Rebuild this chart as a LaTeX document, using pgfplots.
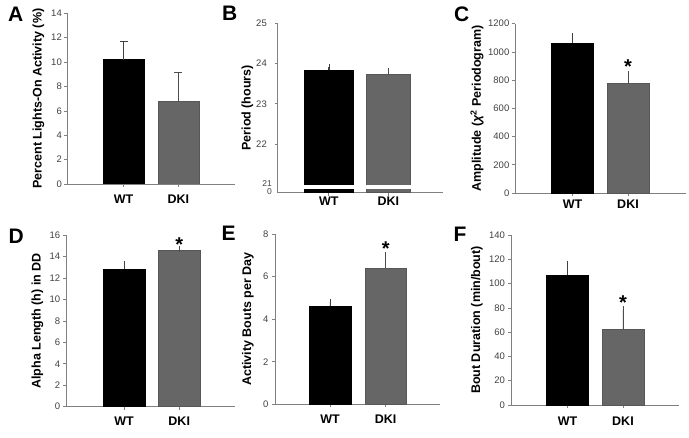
\documentclass[border=0pt]{standalone}
\usepackage{pgfplots}
\pgfplotsset{compat=1.18}
\usepackage{fontspec}
\setmainfont{Liberation Sans}
\definecolor{dki}{RGB}{102,102,102}
\definecolor{axgray}{RGB}{128,128,128}
\newcommand{\ticklab}{\fontsize{9.5}{10}\selectfont}
\newcommand{\lab}{\fontsize{12.5}{14}\selectfont\bfseries}
\newcommand{\panel}{\fontsize{21}{22}\selectfont\bfseries}
\pgfplotsset{
  panel/.style={
    scale only axis,
    axis lines=left,
    axis line style={-, axgray, line width=0.7pt},
    tick style={axgray, line width=0.6pt},
    tick align=outside,
    major tick length=3pt,
    xtick={1,2}, xticklabels={WT,DKI},
    x tick label style={font=\lab, anchor=north, inner sep=0pt},
    y tick label style={font=\ticklab, text=black!75, anchor=east, inner sep=0pt},
    /pgf/number format/assume math mode=true,
    /pgf/number format/1000 sep={},
    ymin=0,
  },
  ylab/.style={every axis y label/.style={at={([xshift=#1]axis description cs:0,0.5)}, rotate=90, anchor=center, font=\lab}},
  xlab/.style={x tick label style={yshift=#1}},
  ytl/.style={y tick label style={xshift=#1}},
  wtbar/.style={ybar, bar width=#1, fill=black, draw=black, line width=0.4pt,
    error bars/.cd, y dir=plus, y explicit,
    error bar style={black!75, line width=0.6pt},
    error mark options={rotate=90, mark size=4pt, black!75, line width=0.6pt}},
  dkibar/.style={ybar, bar width=#1, fill=dki, draw=dki!85!black, line width=0.4pt,
    error bars/.cd, y dir=plus, y explicit,
    error bar style={black!70, line width=0.6pt},
    error mark options={rotate=90, mark size=4pt, black!70, line width=0.6pt}},
  star/.style={draw=none, mark=none, nodes near coords={*},
    every node near coord/.append style={font=\fontsize{20}{20}\selectfont\bfseries, anchor=center, inner sep=0pt, text=black}},
}
\begin{document}
\begin{tikzpicture}
\useasboundingbox (0pt,0pt) rectangle (689pt,438pt);

% Panel letters
\node[anchor=base west, inner sep=0pt, font=\panel] at (8pt,416.3pt) {A};
\node[anchor=base west, inner sep=0pt, font=\panel] at (222pt,417.3pt) {B};
\node[anchor=base west, inner sep=0pt, font=\panel] at (454pt,416.8pt) {C};
\node[anchor=base west, inner sep=0pt, font=\panel] at (8.5pt,194pt) {D};
\node[anchor=base west, inner sep=0pt, font=\panel] at (221.5pt,197pt) {E};
\node[anchor=base west, inner sep=0pt, font=\panel] at (453.5pt,196.5pt) {F};

% A
\begin{axis}[panel, at={(67pt,254pt)}, anchor=south west, width=168pt, height=170.7pt,
  xmin=-0.03, xmax=3.03, ymax=14, ytick={0,2,...,14},
  ylab=-28.5pt, xlab=-8pt, ytl=-2pt,
  ylabel={Percent Lights-On Activity (\%)}]
\addplot[wtbar=0.757] coordinates {(1,10.2) +- (0,1.5)};
\addplot[dkibar=0.74] coordinates {(2,6.8) +- (0,2.4)};
\end{axis}

% B
\begin{axis}[panel, at={(277.5pt,245.3pt)}, anchor=south west, width=165.5pt, height=169.7pt,
  xmin=0.138, xmax=2.919, ymin=20.797, ymax=25, ytick={22,23,24,25},
  extra y ticks={20.827,21}, extra y tick labels={\raisebox{-1.2pt}{0},\raisebox{1.2pt}{21}},
  extra y tick style={major tick style={draw=none}, y tick label style={xshift=5pt, font=\fontsize{8.5}{8.5}\selectfont}},
  ylab=-30pt, xlab=-1.5pt, ytl=-7.5pt,
  ylabel={Period (hours)}]
\addplot[wtbar=0.82, error mark options={mark size=3pt}] coordinates {(1,23.83) +- (0,0.07)};
\addplot[dkibar=0.73, error mark options={mark size=3pt}] coordinates {(2,23.72) +- (0,0.08)};
\fill[white] (axis cs:0.3,20.885) rectangle (axis cs:2.7,20.985);
\draw[axgray, line width=0.6pt] (axis cs:0.138,21) ++(-6.5pt,-0.5pt) .. controls ++(2pt,2.5pt) and ++(-2pt,-2.5pt) .. ++(6.5pt,0.5pt);
\draw[axgray, line width=0.6pt] (axis cs:0.138,20.827) ++(-6.5pt,-0.5pt) .. controls ++(2pt,2.5pt) and ++(-2pt,-2.5pt) .. ++(6.5pt,0.5pt);
\end{axis}

% C
\begin{axis}[panel, at={(515pt,245pt)}, anchor=south west, width=171pt, height=169.3pt, clip=false,
  xmin=-0.036, xmax=3.045, ymax=1200, ytick={0,200,...,1200},
  ylab=-38pt, xlab=-4pt, ytl=-2.5pt,
  ylabel={Amplitude ({\itshape χ}\textsuperscript{2} Periodogram)}]
\addplot[wtbar=0.75, error mark options={mark size=3pt}] coordinates {(1,1060) +- (0,50)};
\addplot[dkibar=0.75, error mark options={mark size=3pt}] coordinates {(2,775) +- (0,70)};
\addplot[star] coordinates {(2,898)};
\end{axis}

% D
\begin{axis}[panel, at={(66.5pt,31.3pt)}, anchor=south west, width=168.5pt, height=171.7pt, clip=false,
  xmin=-0.042, xmax=3.01, ymax=16, ytick={0,2,...,16},
  ylab=-29pt, xlab=-7pt, ytl=-3.2pt,
  ylabel={Alpha Length (h) in DD}]
\addplot[wtbar=0.75, error mark options={mark size=3.5pt}] coordinates {(1,12.85) +- (0,0.4)};
\addplot[dkibar=0.75, error mark options={mark size=3pt}] coordinates {(2,14.62) +- (0,0.12)};
\addplot[star] coordinates {(2,15.13)};
\end{axis}

% E
\begin{axis}[panel, at={(275pt,33.7pt)}, anchor=south west, width=165pt, height=170.3pt, clip=false,
  xmin=0.013, xmax=2.975, ymax=8, ytick={0,2,...,8},
  ylab=-27pt, xlab=-7.7pt, ytl=-3.5pt,
  ylabel={Activity Bouts per Day}]
\addplot[wtbar=0.75, error mark options={mark size=3.5pt}] coordinates {(1,4.6) +- (0,0.2)};
\addplot[dkibar=0.75, error mark options={mark size=3.5pt}] coordinates {(2,6.4) +- (0,0.6)};
\addplot[star] coordinates {(2,7.32)};
\end{axis}

% F
\begin{axis}[panel, at={(511pt,33pt)}, anchor=south west, width=168pt, height=170pt, clip=false,
  xmin=-0.018, xmax=3.01, ymax=140, ytick={0,20,...,140},
  ylab=-34pt, xlab=-8.7pt, ytl=-2.8pt,
  ylabel={Bout Duration (min/bout)}]
\addplot[wtbar=0.75, error mark options={mark size=3.5pt}] coordinates {(1,107) +- (0,8.5)};
\addplot[dkibar=0.75, error mark options={mark size=3.5pt}] coordinates {(2,62.5) +- (0,16)};
\addplot[star] coordinates {(2,84.4)};
\end{axis}
\end{tikzpicture}
\end{document}
